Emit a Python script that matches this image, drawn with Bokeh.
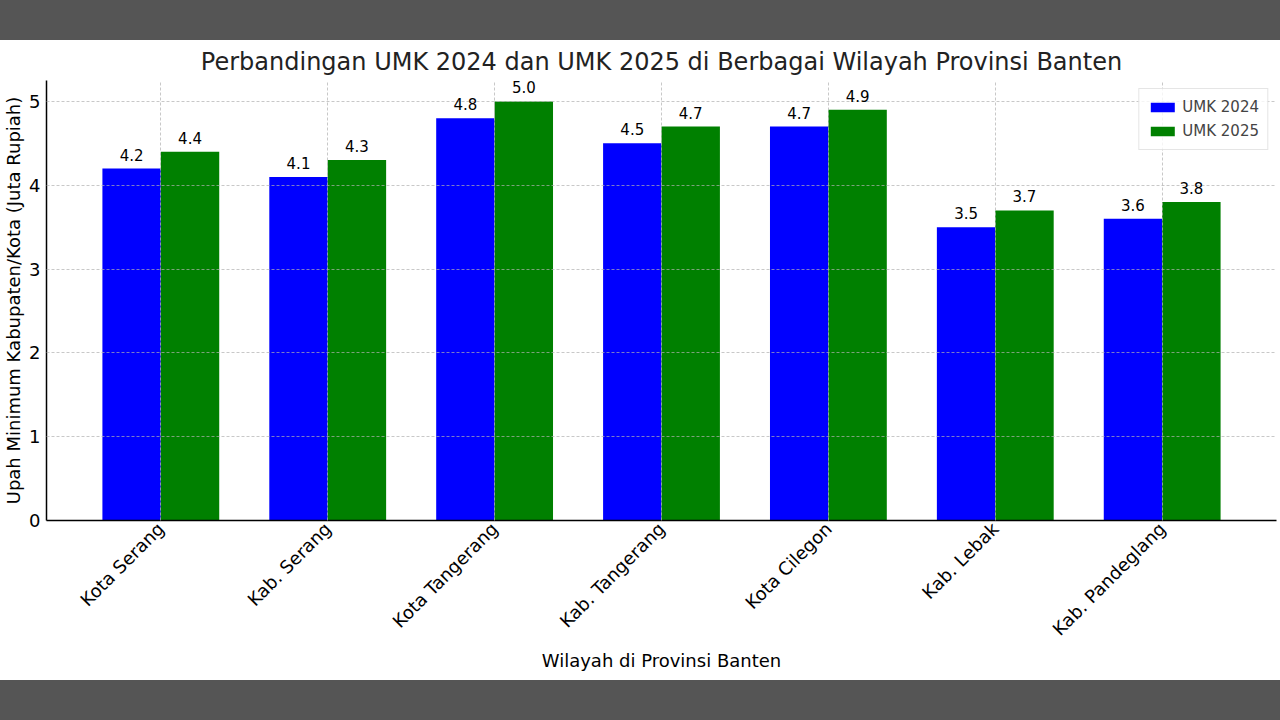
import math
from bokeh.plotting import figure
from bokeh.models import ColumnDataSource, Range1d, FixedTicker, LabelSet, Legend, LegendItem, Div
from bokeh.core.properties import value
from bokeh.transform import dodge
from bokeh.layouts import column
from bokeh.embed import file_html
from bokeh.resources import INLINE

regions = ["Kota Serang", "Kab. Serang", "Kota Tangerang", "Kab. Tangerang",
           "Kota Cilegon", "Kab. Lebak", "Kab. Pandeglang"]
umk_2024 = [4.2, 4.1, 4.8, 4.5, 4.7, 3.5, 3.6]
umk_2025 = [4.4, 4.3, 5.0, 4.7, 4.9, 3.7, 3.8]

FONT = "DejaVu Sans"
idx = list(range(len(regions)))
src = ColumnDataSource(dict(
    x=idx, a=umk_2024, b=umk_2025,
    la=[f"{v:.1f}" for v in umk_2024], lb=[f"{v:.1f}" for v in umk_2025],
))

W = 1280
p = figure(width=W, height=640, output_backend="svg", toolbar_location=None,
           x_range=Range1d(-0.685, len(regions) - 1 + 0.685), y_range=Range1d(0, 5.25),
           min_border_left=46, min_border_right=4, min_border_top=38, min_border_bottom=160,
           margin=0)
p.outline_line_color = None

bw = 0.35
r1 = p.vbar(x=dodge("x", -bw / 2), top="a", width=bw, source=src, fill_color="#0000ff", line_color=None)
r2 = p.vbar(x=dodge("x", bw / 2), top="b", width=bw, source=src, fill_color="#008000", line_color=None)

for col, off, top in (("la", -bw / 2, "a"), ("lb", bw / 2, "b")):
    p.add_layout(LabelSet(x=dodge("x", off), y=top, text=col, source=src, y_offset=8,
                          text_align="center", text_baseline="bottom",
                          text_font=value(FONT), text_font_size="15px", text_color="black"))

p.title.text = "Perbandingan UMK 2024 dan UMK 2025 di Berbagai Wilayah Provinsi Banten"
p.title.align = "center"
p.title.text_font = FONT
p.title.text_font_size = "24px"
p.title.text_font_style = "normal"
p.title.text_color = "#222222"

p.xaxis.ticker = FixedTicker(ticks=idx)
p.xaxis.major_label_overrides = {i: r for i, r in enumerate(regions)}
p.xaxis.major_label_orientation = math.pi / 4
p.yaxis.ticker = FixedTicker(ticks=[0, 1, 2, 3, 4, 5])
for ax in (p.xaxis, p.yaxis):
    ax.major_tick_in = 0
    ax.major_tick_out = 0
    ax.minor_tick_in = 0
    ax.minor_tick_out = 0
    ax.axis_line_color = "black"
    ax.axis_line_width = 1.5
    ax.major_label_text_font = FONT
    ax.major_label_text_font_size = "18px"
    ax.major_label_text_color = "black"
    ax.axis_label_text_font = FONT
    ax.axis_label_text_font_size = "18px"
    ax.axis_label_text_font_style = "normal"
    ax.axis_label_text_color = "black"
p.xaxis.axis_label = "Wilayah di Provinsi Banten"
p.yaxis.axis_label = "Upah Minimum Kabupaten/Kota (Juta Rupiah)"
p.yaxis.axis_label_standoff = 2
p.yaxis.major_label_standoff = 6
p.xaxis.axis_label_standoff = 0

for g in (p.xgrid, p.ygrid):
    g.grid_line_color = "#b0b0b0"
    g.grid_line_alpha = 0.7
    g.grid_line_dash = "3 2"
    g.grid_line_width = 1
    g.level = "guide"

legend = Legend(items=[LegendItem(label="UMK 2024", renderers=[r1]),
                       LegendItem(label="UMK 2025", renderers=[r2])],
                location="top_right", margin=8, padding=8, spacing=4,
                glyph_width=30, glyph_height=12, label_height=20,
                label_text_font=FONT, label_text_font_size="15px",
                border_line_color="#cccccc", background_fill_alpha=0.8)
p.add_layout(legend)

top_bar = Div(width=W, height=40, margin=0, styles={"background-color": "#555555"})
bot_bar = Div(width=W, height=40, margin=0, styles={"background-color": "#555555"})
layout = column(top_bar, p, bot_bar, spacing=0, margin=0)

open("out.html", "w").write(file_html(layout, INLINE))
